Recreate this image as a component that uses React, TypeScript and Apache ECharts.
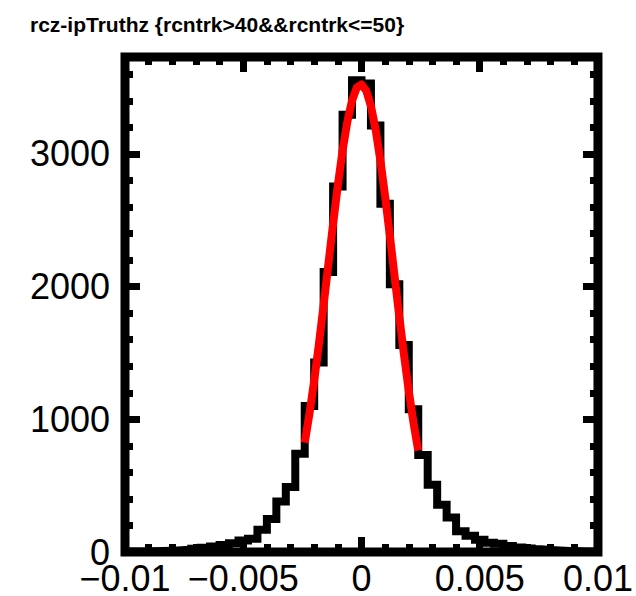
import React, { useEffect, useRef } from "react";
import * as echarts from "echarts";

const titleText = "rcz-ipTruthz {rcntrk>40&&rcntrk<=50}";

// histogram: 50 bins from xMin to xMax
const xMin = -0.01;
const xMax = 0.01;
const binCounts = [
  3, 4, 5, 7, 10, 14, 18, 24, 32, 42,
  52, 66, 86, 100, 168, 248, 381, 490, 740, 1100,
  1428, 2110, 2754, 3295, 3555, 3530, 3213, 2624, 2017, 1559,
  1075, 731, 506, 356, 260, 156, 123, 92, 70, 62,
  45, 34, 26, 20, 15, 11, 8, 6, 4, 3,
];

// red fit curve
const fitX = [
  -0.0024, -0.0022, -0.002, -0.0018, -0.0016, -0.0014, -0.0012, -0.001, -0.0008,
  -0.0006, -0.0004, -0.0002, 0, 0.0002, 0.0004, 0.0006, 0.0008, 0.001, 0.0012,
  0.0014, 0.0016, 0.0018, 0.002, 0.0022, 0.0024,
];
const fitY = [
  824, 1042, 1291, 1567, 1863, 2169, 2474, 2763, 3024,
  3241, 3402, 3499, 3523, 3477, 3360, 3181, 2949, 2679, 2383,
  2077, 1772, 1482, 1213, 973, 765,
];

const yMax = 3730;
const yMajor = 1000;
const yMinor = 200;
const xMajor = 0.005;

const fmtX = (v: number) => {
  if (Math.abs(v) < 1e-12) return "0";
  const r = Math.round(v * 1e6) / 1e6;
  return r < 0 ? "\u2212" + String(Math.abs(r)) : String(r);
};
const fmtY = (v: number) => String(Math.round(v));

export default function App() {
  const ref = useRef<HTMLDivElement>(null);
  useEffect(() => {
    if (!ref.current) return;
    const chart = echarts.init(ref.current, null, { renderer: "svg" });
    const bw = (xMax - xMin) / binCounts.length;
    const histData: number[][] = binCounts.map((v, i) => [xMin + i * bw, v]);
    histData.push([xMax, binCounts[binCounts.length - 1]]);
    const fitData = fitX.map((x, i) => [x, fitY[i]]);

    const font = "'Liberation Sans', Arial, Helvetica, sans-serif";
    const tickMajor = { show: true, inside: true, length: 15, lineStyle: { color: "#000", width: 7 } };
    const tickMinor = { show: true, inside: true, length: 8, lineStyle: { color: "#000", width: 7 } };
    const minorTick = { show: true, splitNumber: 5, length: 8, lineStyle: { color: "#000", width: 7 } };

    const xBase = (pos: "top" | "bottom", labels: boolean) => ({
      type: "value",
      position: pos,
      min: xMin,
      max: xMax,
      interval: xMajor,
      axisLine: { show: false, onZero: false },
      splitLine: { show: false },
      axisTick: tickMajor,
      minorTick,
      axisLabel: labels
        ? {
            show: true,
            color: "#000",
            fontSize: 36,
            lineHeight: 30,
            fontFamily: font,
            margin: 11,
            formatter: fmtX,
          }
        : { show: false },
    });
    const yBase = (pos: "left" | "right", interval: number, major: boolean, labels: boolean) => ({
      type: "value",
      position: pos,
      min: 0,
      max: yMax,
      interval,
      axisLine: { show: false, onZero: false },
      splitLine: { show: false },
      axisTick: major ? tickMajor : tickMinor,
      axisLabel: labels
        ? {
            show: true,
            color: "#000",
            fontSize: 36,
            lineHeight: 30,
            fontFamily: font,
            margin: 15,
            showMaxLabel: false,
            formatter: fmtY,
          }
        : { show: false },
    });

    chart.setOption({
      animation: false,
      backgroundColor: "#fff",
      title: {
        text: titleText,
        left: 25,
        top: 9,
        textStyle: { fontSize: 21, fontWeight: "bold", fontFamily: font, color: "#000" },
      },
      grid: {
        left: 125,
        right: 32,
        top: 57,
        bottom: 44,
        show: true,
        borderColor: "#000",
        borderWidth: 9,
        backgroundColor: "transparent",
      },
      xAxis: [xBase("bottom", true), xBase("top", false)],
      yAxis: [
        yBase("left", yMajor, true, true),
        yBase("left", yMinor, false, false),
        yBase("right", yMajor, true, false),
        yBase("right", yMinor, false, false),
      ],
      series: [
        {
          type: "line",
          xAxisIndex: 0,
          yAxisIndex: 0,
          data: histData,
          step: "end",
          symbol: "none",
          lineStyle: { color: "#000", width: 8, join: "miter", cap: "butt" },
          z: 2,
        },
        {
          type: "line",
          xAxisIndex: 0,
          yAxisIndex: 0,
          data: fitData,
          symbol: "none",
          smooth: false,
          lineStyle: { color: "#ff0000", width: 8, join: "round", cap: "butt" },
          z: 3,
        },
      ],
    });
    return () => chart.dispose();
  }, []);
  return (
    <div
      ref={ref}
      style={{ position: "fixed", left: 0, top: 0, width: 636, height: 596, background: "#fff" }}
    />
  );
}
